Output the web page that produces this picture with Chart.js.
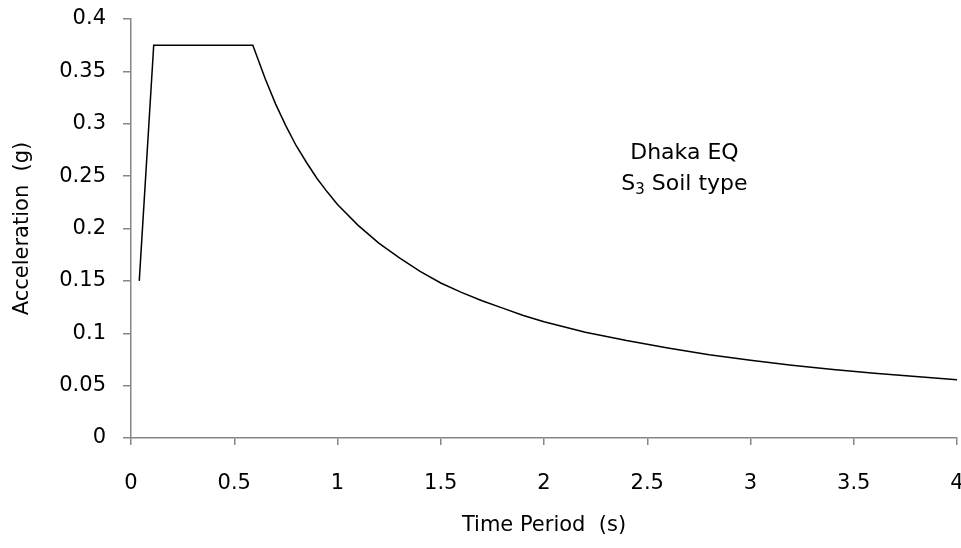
<!DOCTYPE html>
<html>
<head>
<meta charset="utf-8">
<script src="https://cdn.jsdelivr.net/npm/chart.js@4.4.1/dist/chart.umd.min.js"></script>
<style>
  html, body { margin: 0; padding: 0; background: #fff; }
</style>
</head>
<body>
<canvas id="chartSpectrum" width="961" height="548"></canvas>
<script>
// Response spectrum
const periods = [0.04, 0.11, 0.59, 0.62, 0.65, 0.7, 0.75, 0.8, 0.85, 0.9, 0.95, 1.0, 1.1, 1.2, 1.3, 1.4, 1.5, 1.6, 1.7, 1.8, 1.9, 2.0, 2.2, 2.4, 2.6, 2.8, 3.0, 3.2, 3.4, 3.6, 3.8, 4.0];
const accelerations = [0.15, 0.375, 0.375, 0.359, 0.343, 0.319, 0.298, 0.279, 0.263, 0.248, 0.235, 0.223, 0.203, 0.186, 0.172, 0.159, 0.148, 0.139, 0.131, 0.124, 0.117, 0.111, 0.101, 0.093, 0.086, 0.0795, 0.0742, 0.0695, 0.0654, 0.0618, 0.0586, 0.0556];
const noteLines = ["Dhaka EQ", "S3 Soil type"];
const notePos = { x: 2.68, y1: 0.272, y2: 0.242 };

const FONT = "'DejaVu Sans', Verdana, sans-serif";
const AXIS_GREY = "#868686";

const points = periods.map((t, i) => ({ x: t, y: accelerations[i] }));

// text box in the plot
const notePlugin = {
  id: "note",
  afterDraw(chart) {
    const { ctx, scales } = chart;
    const cx = scales.x.getPixelForValue(notePos.x);
    const big = "22px " + FONT;
    const small = "15px " + FONT;
    ctx.save();
    ctx.fillStyle = "#000";
    ctx.font = big;
    ctx.textBaseline = "middle";
    ctx.textAlign = "center";
    ctx.fillText(noteLines[0], cx, scales.y.getPixelForValue(notePos.y1));

    // second line, S with subscript 3
    const y2 = scales.y.getPixelForValue(notePos.y2);
    const head = noteLines[1].charAt(0);
    const sub = noteLines[1].charAt(1);
    const tail = noteLines[1].slice(2);
    const wHead = ctx.measureText(head).width;
    const wTail = ctx.measureText(tail).width;
    ctx.font = small;
    const wSub = ctx.measureText(sub).width;
    let x = cx - (wHead + wSub + wTail) / 2;
    ctx.textAlign = "left";
    ctx.font = big;
    ctx.fillText(head, x, y2);
    x += wHead;
    ctx.font = small;
    ctx.fillText(sub, x, y2 + 6);
    x += wSub;
    ctx.font = big;
    ctx.fillText(tail, x, y2);
    ctx.restore();
  },
};

new Chart(document.getElementById("chartSpectrum"), {
  type: "scatter",
  data: {
    datasets: [
      {
        label: "Spectrum",
        data: points,
        showLine: true,
        borderColor: "#000",
        borderWidth: 1.5,
        pointRadius: 0,
        tension: 0,
      },
    ],
  },
  options: {
    responsive: false,
    animation: false,
    layout: { padding: { top: 19, right: 4, bottom: 0, left: 0 } },
    plugins: {
      legend: { display: false },
      tooltip: { enabled: false },
    },
    scales: {
      x: {
        type: "linear",
        min: 0,
        max: 4,
        afterFit(scale) {
          scale.height = 110;
          scale.paddingLeft = 0;
          scale.paddingRight = 0;
        },
        ticks: {
          stepSize: 0.5,
          padding: 26,
          color: "#000",
          font: { family: FONT, size: 21 },
          maxRotation: 0,
          callback: (v) => String(+v.toFixed(1)),
        },
        grid: {
          drawOnChartArea: false,
          drawTicks: true,
          tickLength: 7,
          color: AXIS_GREY,
          lineWidth: 1.5,
        },
        border: { display: true, color: AXIS_GREY, width: 1.5 },
        title: {
          display: true,
          text: "Time Period  (s)",
          color: "#000",
          font: { family: FONT, size: 21 },
          padding: { top: 0, bottom: 10 },
        },
      },
      y: {
        type: "linear",
        min: 0,
        max: 0.4,
        afterFit(scale) {
          scale.width = 131;
          scale.paddingTop = 0;
          scale.paddingBottom = 0;
        },
        ticks: {
          stepSize: 0.05,
          padding: 17,
          color: "#000",
          font: { family: FONT, size: 21 },
          callback: (v) => String(+v.toFixed(2)),
        },
        grid: {
          drawOnChartArea: false,
          drawTicks: true,
          tickLength: 8,
          color: AXIS_GREY,
          lineWidth: 1.5,
        },
        border: { display: true, color: AXIS_GREY, width: 1.5 },
        title: {
          display: true,
          text: "Acceleration  (g)",
          color: "#000",
          font: { family: FONT, size: 21 },
          padding: { top: 10, bottom: 0 },
        },
      },
    },
  },
  plugins: [notePlugin],
});
</script>
</body>
</html>
